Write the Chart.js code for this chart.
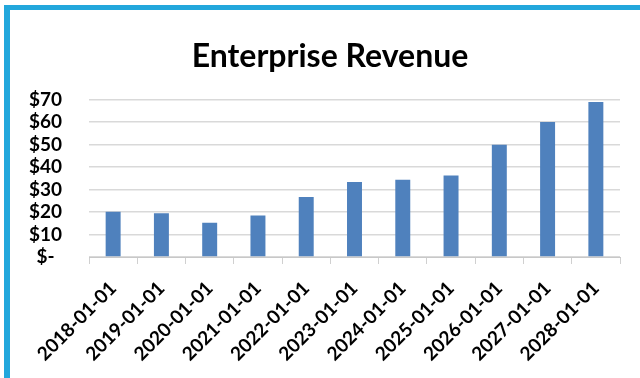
<!DOCTYPE html>
<html>
<head>
<meta charset="utf-8">
<script src="https://cdn.jsdelivr.net/npm/chart.js@4.4.1/dist/chart.umd.min.js"></script>
<style>
html, body { margin: 0; padding: 0; background: #fff; }
#wrap { position: relative; width: 640px; height: 378px; }
#myChart { display: block; }
#frame {
  position: absolute; left: 4px; top: 5px; right: 0; bottom: 0;
  border-left: 6px solid #22a7dc; border-top: 5px solid #22a7dc;
  pointer-events: none;
}
</style>
</head>
<body>
<div id="wrap">
  <canvas id="myChart" width="640" height="378"></canvas>
  <div id="frame"></div>
</div>
<script>
const labels = ['2018-01-01', '2019-01-01', '2020-01-01', '2021-01-01', '2022-01-01', '2023-01-01',
    '2024-01-01', '2025-01-01', '2026-01-01', '2027-01-01', '2028-01-01'];
const revenue = [20.1, 19.4, 15.2, 18.4, 26.6, 33.3, 34.3, 36.2, 49.9, 60.0, 68.9];
const yTicks = [0, 10, 20, 30, 40, 50, 60, 70];

const data = {
    labels: labels,
    datasets: [{
        label: 'Enterprise Revenue',
        backgroundColor: '#4f81bd',
        borderWidth: 0,
        barPercentage: 0.31,
        categoryPercentage: 1,
        data: revenue,
    }]
};

const config = {
    type: 'bar',
    data: data,
    options: {
      responsive: false,
      animation: false,
      // left padding + empty right axis keep the title centred a bit right of the middle
      layout: { padding: { top: 0, right: 0, bottom: 0, left: 20 } },
      plugins: {
        legend: { display: false },
        tooltip: { enabled: false },
        title: {
          display: true,
          text: 'Enterprise Revenue',
          color: '#000',
          font: { family: 'Lato', size: 32, weight: 'bold' },
          padding: { top: 37, bottom: 24 }
        }
      },
      scales: {
        x: {
          grid: {
            drawOnChartArea: false,
            drawTicks: true,
            tickLength: 7,
            color: '#d0d0d0'
          },
          border: { display: true, color: '#c8c8c8', width: 1 },
          ticks: {
            color: '#000',
            font: { family: 'Lato', size: 19, weight: 'bold' },
            minRotation: 45,
            maxRotation: 45,
            autoSkip: false,
            padding: 13
          },
          afterFit: (scale) => { scale.height = 121; }
        },
        y: {
          min: 0,
          max: 70,
          afterBuildTicks: (scale) => { scale.ticks = yTicks.map(v => ({ value: v })); },
          grid: { color: '#d9d9d9', lineWidth: 1.5, drawTicks: false },
          border: { display: false },
          ticks: {
            color: '#000',
            font: { family: 'Lato', size: 19, weight: 'bold' },
            crossAlign: 'center',
            autoSkip: false,
            padding: 27,
            callback: (v) => v === 0 ? '$-' : '$' + v
          },
          afterFit: (scale) => { scale.width = 69; }
        },
        spacer: {
          type: 'linear',
          position: 'right',
          display: true,
          grid: { display: false },
          border: { display: false },
          ticks: { display: false },
          afterFit: (scale) => { scale.width = 20; }
        }
      }
    }
};

new Chart(document.getElementById('myChart'), config);
</script>
</body>
</html>
